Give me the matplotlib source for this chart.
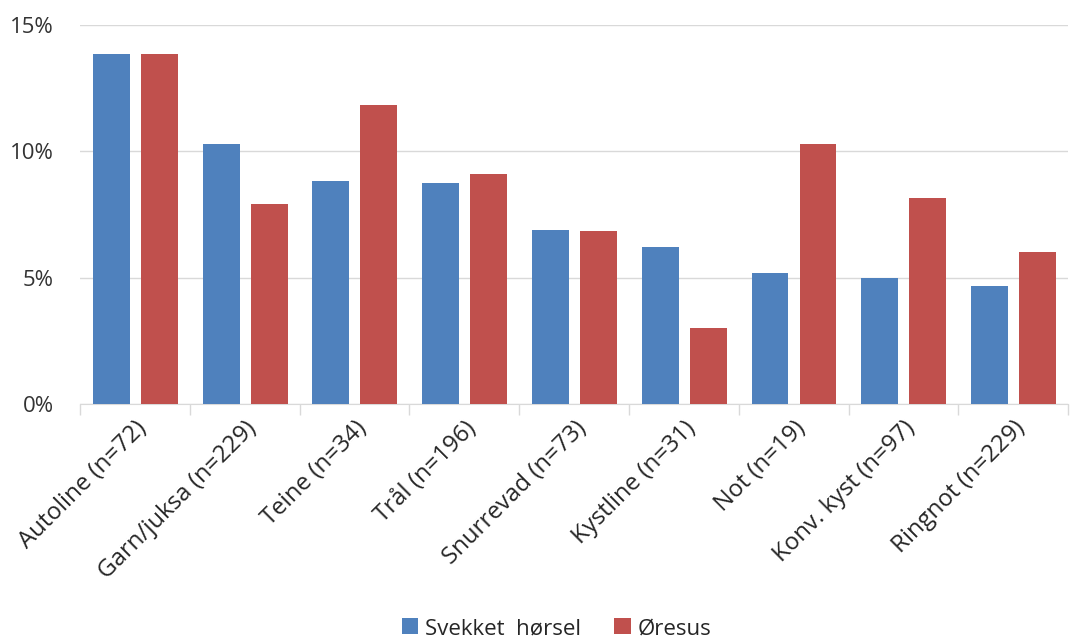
import matplotlib.pyplot as plt
import numpy as np
from matplotlib.ticker import FuncFormatter, FixedLocator

categories = ["Autoline (n=72)", "Garn/juksa (n=229)", "Teine (n=34)", "Trål (n=196)",
              "Snurrevad (n=73)", "Kystline (n=31)", "Not (n=19)", "Konv. kyst (n=97)",
              "Ringnot (n=229)"]
svekket_horsel = [13.85, 10.28, 8.81, 8.73, 6.9, 6.23, 5.2, 5.0, 4.68]
oresus = [13.85, 7.9, 11.83, 9.09, 6.83, 3.0, 10.28, 8.17, 6.03]

plt.rcParams['font.family'] = ['Open Sans', 'DejaVu Sans']

fig = plt.figure(figsize=(10.7, 6.43), dpi=100)
ax = fig.add_axes([0.0748, 0.3717, 0.9234, 0.5893])

x = np.arange(len(categories))
w = 0.336
ax.bar(x - 0.215, svekket_horsel, w, color="#4F81BD", label="Svekket  hørsel", zorder=3)
ax.bar(x + 0.222, oresus, w, color="#C0504D", label="Øresus", zorder=3)

ax.set_xlim(-0.5, len(categories) - 0.5)
ax.set_ylim(0, 15)
ax.set_yticks([0, 5, 10, 15])
ax.yaxis.set_major_formatter(FuncFormatter(lambda v, p: f"{v:.0f}%"))
ax.yaxis.grid(True, color="#D9D9D9", linewidth=1, zorder=0)
ax.tick_params(axis='y', length=0, labelsize=16, labelcolor="#333333", pad=19)

ax.set_xticks(x)
ax.set_xticklabels(categories, rotation=45, ha='right', va='top', rotation_mode='anchor',
                   fontsize=17.3, color="#262626")
ax.tick_params(axis='x', which='major', length=0, pad=9)
ax.xaxis.set_minor_locator(FixedLocator(np.arange(-0.5, len(categories), 1.0)))
ax.tick_params(axis='x', which='minor', length=8, color="#D9D9D9", width=1)

for s in ['top', 'right', 'left']:
    ax.spines[s].set_visible(False)
ax.spines['bottom'].set_color("#D9D9D9")

fig.legend(loc='lower center', bbox_to_anchor=(0.52, -0.025), ncol=2, frameon=False,
           fontsize=16, handlelength=0.75, handleheight=0.75, handletextpad=0.3,
           columnspacing=1.5, labelcolor="#262626")

fig.savefig("out.png", dpi=100)
